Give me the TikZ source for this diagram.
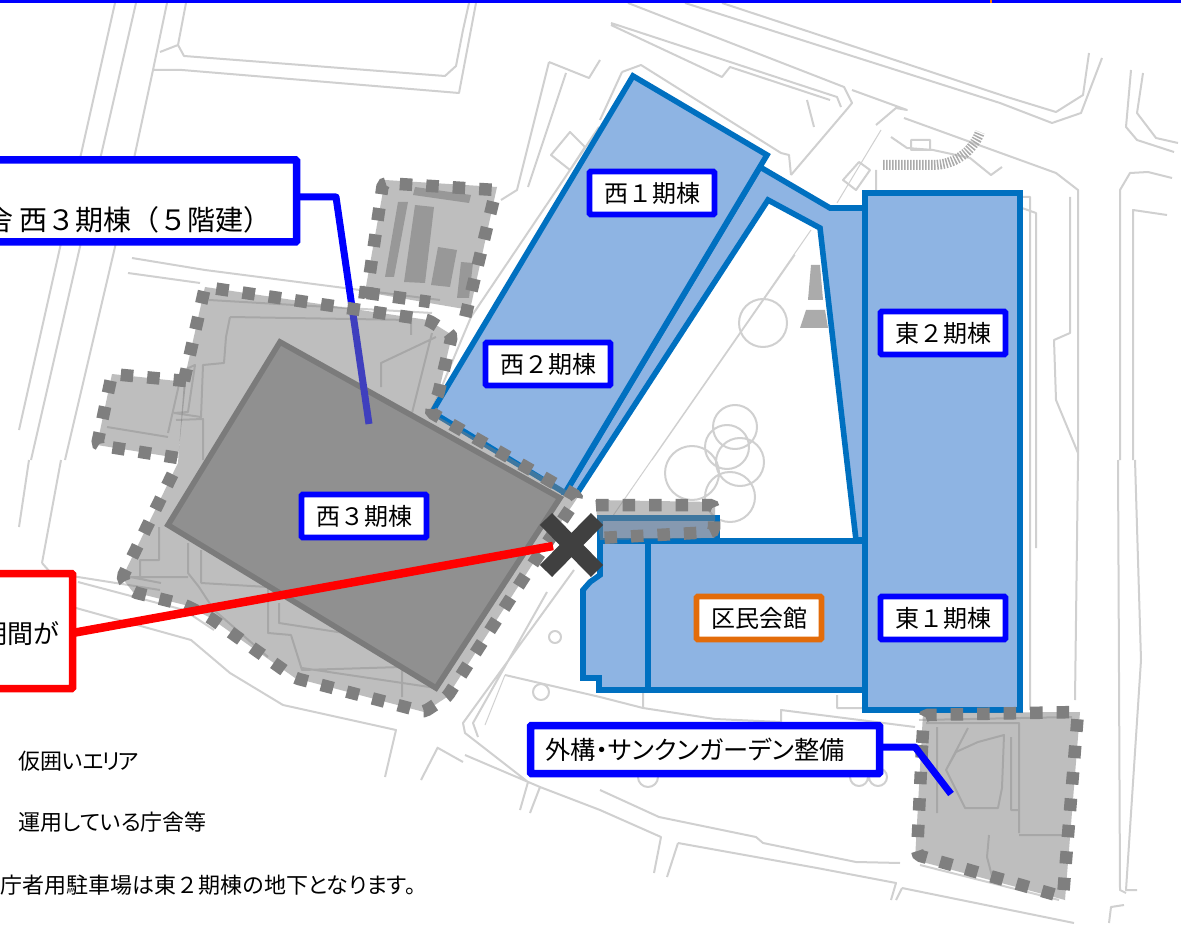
\documentclass[tikz,border=0pt]{standalone}
\usepackage{fontspec}
\newfontfamily\jp{Noto Sans CJK JP}
\newfontfamily\jpp{Noto Sans CJK JP}[RawFeature={+palt}]
\definecolor{rule}{HTML}{0000FF}
\definecolor{bfill}{HTML}{8EB4E3}
\definecolor{bline}{HTML}{0070C0}
\definecolor{orangeb}{HTML}{E36C0A}
\definecolor{mapc}{HTML}{D0D0D0}
\definecolor{tmpg}{HTML}{7F7F7F}
\tikzset{
  x=1pt,y=-1pt,
  mapline/.style={draw=mapc,line width=2pt,line join=round},
  thinmap/.style={draw=mapc,line width=1pt},
  parkrow/.style={fill=black!30},
  bldg/.style={fill=bfill,draw=bline,line width=5.6pt,line join=miter},
  overlay/.style={fill=tmpg,fill opacity=0.5},
  tempfence/.style={draw=tmpg,line width=12.5pt,dash pattern=on 12.5pt off 14pt,rounded corners=4pt},
  lab/.style={font=\jp\fontsize{24}{24}\selectfont,fill=white,draw=rule,line width=5.6pt,minimum width=125pt,minimum height=43pt,inner sep=0pt,rounded corners=1pt},
  fat/.style={fill=white,line width=7.5pt,inner sep=0pt,outer sep=0pt,rounded corners=1pt},
  txt/.style={inner sep=0pt,text=black},
  leader/.style={draw=rule,line width=7pt,line join=round},
}
\begin{document}
\begin{tikzpicture}
\useasboundingbox (0,0) rectangle (1181,925);
\clip (0,0) rectangle (1181,925);
\fill[white] (0,0) rectangle (1181,925);
% --- base map
\draw[mapline] (115,3)--(19,430) (136,3)--(31,460) (167,3)--(153,70)--(115,247)--(65,460)
 (186,3)--(178,45)--(160,52) (178,45)--(184,56)--(445,76)--(456,66)--(463,30)--(469,3)
 (153,70)--(182,70)--(459,93)--(476,3)
 (132,258)--(205,270)--(360,290)--(440,300) (128,273)--(200,283)
 (19,527)--(29,460) (42,563)--(61,460) (42,563)--(50,572)--(78,577)--(160,590)
 (76,608)--(191,640)--(230,673)--(283,705)--(396,730)--(385,777)
 (78,582)--(184,610)--(214,630)
 (574,570)--(463,723)--(465,733)--(528,782)--(520,810)
 (547,592)--(473,723)--(478,737)
 (438,747)--(421,780) (438,748)--(463,762)
 (465,755)--(540,787)--(530,813) (540,787)--(600,810)
 (505,675)--(600,697)--(643,708)--(715,719)--(781,722)--(781,710)--(915,727)
 (643,693)--(643,708) (837,695)--(837,708)--(863,708)
 (600,790)--(659,817)--(756,837)--(763,843)--(856,862)--(900,863)
 (600,810)--(661,837)--(654,873)
 (678,843)--(667,877) (678,843)--(817,868)--(896,883)--(891,900)
 (902,888)--(896,900) (902,888)--(1074,923)
 (1118,460)--(1120,890)--(1126,893)
 (1135,460)--(1141,660)--(1126,890)--(1137,890)
 (1109,923)--(1111,907)--(1124,905)
 (1022,197)--(1030,197)--(1030,710) (1022,208)--(1036,213)--(1036,548)
 (722,3)--(1007,97)--(1056,112)--(1083,95)--(1089,53)
 (685,3)--(1000,103)--(1052,123)--(1081,113)--(1102,58)
 (628,3)--(844,87)--(852,103)--(848,108)--(791,175)
 (611,23)--(837,97)--(841,107)
 (611,25)--(722,77)--(730,67)--(830,100) (807,100)--(814,127)
 (852,90)--(907,110)--(896,108)--(876,125)
 (904,118)--(1056,173)--(1078,190)--(1078,460)--(1075,700)
 (1070,197)--(1070,333)--(1054,340)--(1056,400)--(1078,453)
 (1120,460)--(1120,190)--(1130,173)--(1148,172)--(1172,178)
 (1133,460)--(1133,210)--(1167,215)
 (1131,70)--(1126,127)--(1137,140)--(1174,152)
 (1143,73)--(1137,113)--(1156,138)--(1178,143)
 (843,180)--(859,162)--(870,170)--(856,190)--cycle
 (891,137)--(907,148)--(933,150)--(970,158)--(991,175)--(1002,167)
 (876,170)--(876,190)
 (549,62)--(517,190)--(501,200) (566,73)--(528,187)
 (549,62)--(589,78)--(600,60)
 (551,155)--(570,132)--(585,147)--(570,170)--cycle
 (599,127)--(471,317)--(429,417)
 (622,72)--(600,120) (622,72)--(641,65)--(781,153)--(789,155)--(791,175)
 (911,140) rectangle (930,150)
 % garden
 (763,323) circle (24pt) (735,427) circle (22pt) (727,447) circle (22pt)
 (740,462) circle (24pt) (692,473) circle (27pt) (730,497) circle (25pt);
\draw[thinmap] (881,130)--(837,203) (811,230)--(610,520) (795,255)--(652,460)
 (505,675)--(485,725);
\draw[mapline] (555,637) circle (6pt) (541,692) circle (8pt) (648,777) circle (10pt) (859,777) circle (9pt) (878,777) circle (9pt);
% stairs
\draw[draw=black!33,line width=10pt,dash pattern=on 1.5pt off 1.5pt] (883,165)--(933,165) arc (90:20:50);
\fill[black!33] (811,265)--(820,265)--(823,300)--(808,300)--cycle (806,310)--(825,310)--(828,328)--(800,328)--cycle;
% detail inside the temporary areas
\draw[mapline] (209,300)--(432,313) (230,317)--(411,320)--(411,335) (230,317)--(226,337)--(224,363)--(203,365)--(201,417)--(174,413)
 (176,420)--(203,419)--(203,460) (436,337)--(381,363)--(381,387) (411,417)--(432,333)
 (168,433)--(180,380)--(184,370)--(195,365)--(188,412)--(174,413)
 (107,427)--(168,437)
 (188,543)--(188,573)--(199,587)--(214,610)--(268,657) (201,583)--(268,587)--(268,633)--(291,635)--(302,670)--(402,667)--(402,697)
 (302,668)--(436,688) (201,550)--(201,583) (279,603)--(279,623)--(344,633)
 (161,583)--(130,577)--(188,577) (159,527)--(159,560)--(140,560)--(140,577)
 (919,720)--(1072,717) (926,723)--(1019,723)--(1019,833) (1019,835)--(1063,835)
 (989,835)--(987,857)--(993,880) (937,727)--(937,813)
 (968,728)--(946,770)--(961,800)--(965,808)--(998,808)--(1002,788)--(1004,735)--(978,742)--(956,752)--(946,770)
 (1011,737)--(1011,810)--(1019,810) (920,865)--(1059,900);
\fill[parkrow] (398,202)--(408,202)--(394,277)--(385,277)--cycle
 (415,205)--(434,207)--(425,283)--(404,282)--cycle
 (438,247)--(457,250)--(450,287)--(431,285)--cycle
 (461,262)--(473,263)--(469,298)--(457,298)--cycle
 (415,187)--(471,195)--(469,203)--(413,195)--cycle;
% --- buildings
\draw[bldg] (760,167)--(830,208)--(865,208)--(865,540)--(856,540)--(820,228)--(768,200)--(578,492)--(566,492)--cycle;
\draw[bldg] (633,76)--(767,155)--(565,493)--(432,412)--cycle;
\draw[bldg] (600,518) rectangle (717,541);
\draw[bldg] (600,541)--(600,575)--(590,582)--(583,590)--(583,678)--(599,678)--(599,690)--(648,690)--(648,541)--cycle;
\draw[bldg] (648,541) rectangle (865,690);
\draw[bldg] (865,193) rectangle (1020,710);
% --- building under construction
\draw[fill=black!36,draw=black!53,line width=5.6pt,line join=miter] (280,342)--(560,498)--(436,688)--(168,525)--cycle;
% --- callout box and its leader, seen through the temporary area
\node[fat,draw=rule,minimum width=500pt,minimum height=82pt,anchor=east] (phase3box) at (296.5,201) {};
\coordinate (b3bend) at (336,197);
\coordinate (b3end) at (369,424);
\draw[leader] (phase3box.east |- b3bend)--(b3bend)--(b3end);
% --- temporary areas
\fill[overlay] (184,381)--(205,287)--(428,320)--(452,335)--(438,395)--(430,412)--(578,497)--(532,565)--(447,697)--(424,712)--(295,678)--(209,617)--(185,605)--(133,592)--(122,578)--(178,463)--cycle;
\fill[overlay] (112,374)--(186,382)--(178,458)--(97,445)--cycle;
\fill[overlay] (385,180)--(497,187)--(470,310)--(365,292)--cycle;
\fill[overlay] (595,500)--(715,502)--(715,538)--(600,540)--cycle;
\fill[overlay] (923,713)--(1080,712)--(1065,900)--(915,860)--cycle;
\draw[tempfence] (184,381)--(205,287)--(428,320)--(452,335)--(438,395)--(430,412)--(578,497)--(532,565)--(447,697)--(424,712)--(295,678)--(209,617)--(185,605)--(133,592)--(122,578)--(178,463);
\draw[tempfence] (186,381)--(112,374)--(97,445)--(178,458);
\draw[tempfence] (359,292)--(367,293)--(383,183)--(496,190)--(465,318);
\draw[tempfence] (367,293)--(430,302);
\draw[tempfence] (596,505)--(714,505)--(714,532)--(600,538);
\draw[tempfence] (922,747)--(924,715)--(1078,712)--(1063,897)--(917,855)--cycle;
% --- closed passage mark and red callout
\coordinate (xa) at (546,519); \coordinate (xb) at (597,571);
\coordinate (xc) at (597,519); \coordinate (xd) at (546,571);
\coordinate (xleft) at (553,546);
\node[fat,draw=red,minimum width=300pt,minimum height=115pt,anchor=east] (redbox) at (72.5,631) {};
\draw[draw=red,line width=8.5pt] (redbox.east |- 0,633)--(xleft);
\draw[draw=black!75,line width=17pt] (xa)--(xb) (xc)--(xd);
% --- labels
\node[lab] (w1) at (652,193) {西１期棟};
\node[lab] (w2) at (548,364) {西２期棟};
\node[lab] (w3) at (364,516) {西３期棟};
\node[lab] (e2) at (943,333) {東２期棟};
\node[lab] (e1) at (943,618) {東１期棟};
\node[lab,draw=orangeb] (hall) at (759,618) {区民会館};
\node[fat,draw=rule,minimum width=349pt,minimum height=48pt] (garden) at (705,749.5) {};
\coordinate (gbend) at (915,747);
\coordinate (gend) at (951,794);
\draw[leader] (garden.east |- gbend)--(gbend)--(gend);
\node[txt,anchor=west,font=\jpp\fontsize{25.2}{25}\selectfont] (gardent) at (545,750) {外構・サンクンガーデン整備};
\node[txt,anchor=east,font=\jp\fontsize{28}{28}\selectfont] (phase3t) at (272,220) {舎 西３期棟（５階建）};
\node[txt,anchor=east,font=\jp\fontsize{26}{26}\selectfont] (redt) at (60,634) {期間が};
\node[txt,anchor=west,font=\jpp\fontsize{22}{22}\selectfont] (leg1) at (18,761) {仮囲いエ\kern-2ptリ\kern-2ptア};
\node[txt,anchor=west,font=\jpp\fontsize{22}{22}\selectfont] (leg2) at (18,822) {運用している庁舎等};
\node[txt,anchor=east,font=\jpp\fontsize{22}{22}\selectfont] (note) at (416,885) {庁者用駐車場は東{\jp ２}期棟の地下となります。};
% --- top rule
\fill[rule] (0,0) rectangle (1181,3);
\fill[orange] (989.5,0) rectangle (991.5,3.5);
\end{tikzpicture}
\end{document}
